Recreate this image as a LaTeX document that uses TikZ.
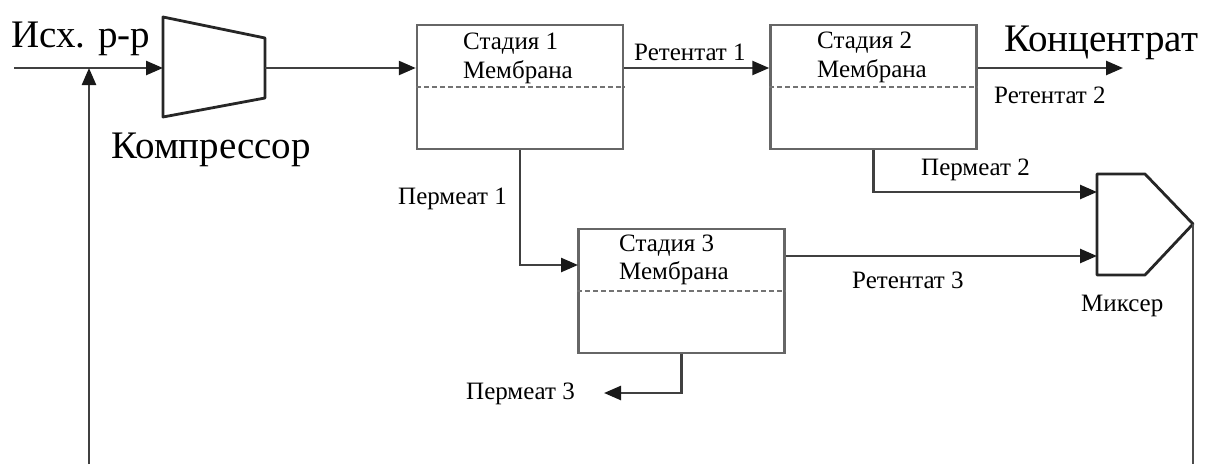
\documentclass[tikz,border=0pt]{standalone}
\usepackage{fontspec}
\setmainfont{Liberation Serif}
\usetikzlibrary{arrows.meta,calc}
\tikzset{
  conn/.style={draw=black!75, line width=2.5pt, -{Triangle[length=17pt,width=14pt,color=black!90]}},
  plain/.style={draw=black!70, line width=2.5pt},
  stagebox/.style={draw=black!60, line width=2.5pt, rectangle, minimum width=206pt, minimum height=124pt, inner sep=0pt},
  divider/.style={draw=black!55, line width=1.8pt, dash pattern=on 5pt off 3pt},
  unit/.style={draw=black!85, line width=2.8pt, line join=round},
  small/.style={inner sep=0pt, anchor=base west, font=\fontsize{25}{28}\selectfont},
  big/.style={inner sep=0pt, anchor=base west, font=\fontsize{39}{42}\selectfont},
}
\begin{document}
\begin{tikzpicture}[x=1pt,y=-1pt]
\useasboundingbox (0,0) rectangle (1207,464);
% Compressor
\draw[unit] (163,17) -- (265,38) -- (265,98) -- (163,117) -- cycle;
\coordinate (compin) at (163,68);
\coordinate (compout) at (265,68);
% Mixer
\draw[unit] (1097,174) -- (1145,174) -- (1193,224) -- (1145,275) -- (1097,275) -- cycle;
\coordinate (mixtip) at (1193,224);
\coordinate (mixin2) at (1097,192);
\coordinate (mixin3) at (1097,256);
% Stages
\node[stagebox] (s1) at (520,87) {};
\node[stagebox] (s2) at (873.5,87) {};
\node[stagebox] (s3) at (681.5,291) {};
\draw[divider] (s1.west) -- (s1.east);
\draw[divider] (s2.west) -- (s2.east);
\draw[divider] (s3.west) -- (s3.east);
\node[small] (s1a) at (463,49) {Стадия 1};
\node[small] (s1b) at (463,78) {Мембрана};
\node[small] (s2a) at (817,48) {Стадия 2};
\node[small] (s2b) at (817,77.5) {Мембрана};
\node[small] (s3a) at (619,251) {Стадия 3};
\node[small] (s3b) at (619,279) {Мембрана};
% Coordinates
\coordinate (feed) at (14,68);
\coordinate (junc) at (89,68);
\coordinate (conc) at (1123,68);
\coordinate (s3in) at (578,265);
\coordinate (p3end) at (604,393);
\coordinate (recA) at (1193,464);
\coordinate (recB) at (89,464);
% Connectors
\draw[conn] (feed) -- (compin);
\draw[conn] (compout) -- (compout -| s1.west);
\draw[conn] (s1.east |- compout) -- (s2.west |- compout);
\draw[conn] (s2.east |- compout) -- (conc);
\draw[conn] (s1.south) |- (s3in);
\draw[conn] (s2.south) |- (mixin2);
\draw[conn] (s3.east |- mixin3) -- (mixin3);
\draw[conn] (s3.south) |- (p3end);
\draw[plain] (mixtip) -- (recA);
\draw[conn] (recB) -- (junc);
% Labels
\node[big] (feedl) at (11,47) {Исх. р-р};
\node[big] (compl) at (111,158) {Компрессор};
\node[big] (concl) at (1004,51) {Концентрат};
\node[small] (r1) at (634,60) {Ретентат 1};
\node[small] (r2) at (994,103) {Ретентат 2};
\node[small] (r3) at (852,288) {Ретентат 3};
\node[small] (p1) at (398,204) {Пермеат 1};
\node[small] (p2) at (921,175) {Пермеат 2};
\node[small] (p3) at (466,399) {Пермеат 3};
\node[small] (mixl) at (1081,311) {Миксер};
\end{tikzpicture}
\end{document}
